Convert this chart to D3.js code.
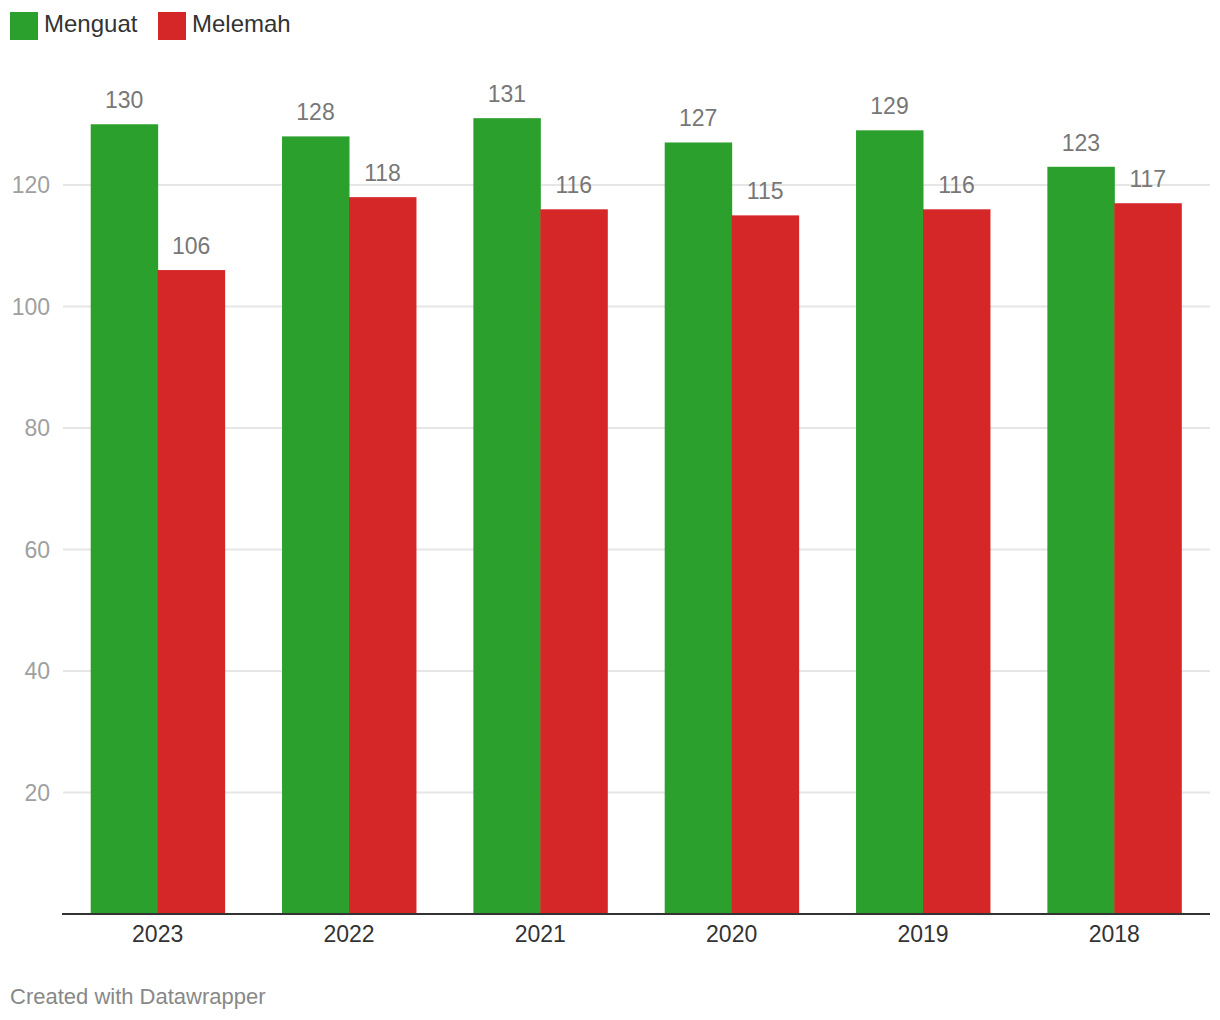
<!DOCTYPE html>
<html>
<head>
<meta charset="utf-8">
<script src="https://cdn.jsdelivr.net/npm/d3@7"></script>
<style>
  body { margin: 0; background: #fff; }
  text { font-family: "Liberation Sans", Arial, Helvetica, sans-serif; }
</style>
</head>
<body>
<div id="chart"></div>
<script>
const width = 1220;
const height = 1020;

// data
const years = ["2023", "2022", "2021", "2020", "2019", "2018"];
const seriesNames = ["Menguat", "Melemah"];
const menguat = [130, 128, 131, 127, 129, 123];
const melemah = [106, 118, 116, 115, 116, 117];
const yTicks = [20, 40, 60, 80, 100, 120];
const colors = ["#2ca02c", "#d62728"];

const svg = d3.select("#chart").append("svg")
    .attr("width", width)
    .attr("height", height);

const x = d3.scaleBand()
    .domain(years)
    .range([62, 1210])
    .paddingInner(0.3)
    .paddingOuter(0.15);

const xSub = d3.scaleBand()
    .domain(seriesNames)
    .range([0, x.bandwidth()]);

const y = d3.scaleLinear()
    .domain([0, 120])
    .range([914, 185]);

// gridlines
svg.append("g")
    .selectAll("line")
    .data(yTicks)
    .enter()
    .append("line")
    .attr("x1", 63)
    .attr("x2", 1210)
    .attr("y1", d => y(d))
    .attr("y2", d => y(d))
    .attr("stroke", "#e6e6e6")
    .attr("stroke-width", 2);

// y tick labels
svg.append("g")
    .selectAll("text")
    .data(yTicks)
    .enter()
    .append("text")
    .attr("x", 50)
    .attr("y", d => y(d) + 8)
    .attr("text-anchor", "end")
    .attr("font-size", 23)
    .attr("fill", "#a0a0a0")
    .text(d => d);

// bars
const rows = years.map((yr, i) => ({ year: yr, values: [menguat[i], melemah[i]] }));

const groups = svg.append("g")
    .selectAll("g")
    .data(rows)
    .enter()
    .append("g")
    .attr("transform", d => `translate(${x(d.year)},0)`);

groups.selectAll("rect")
    .data(d => d.values.map((v, j) => ({ name: seriesNames[j], value: v, color: colors[j] })))
    .enter()
    .append("rect")
    .attr("x", d => xSub(d.name))
    .attr("y", d => y(d.value))
    .attr("width", xSub.bandwidth() + 0.5)
    .attr("height", d => y(0) - y(d.value))
    .attr("fill", d => d.color);

groups.selectAll("text")
    .data(d => d.values.map((v, j) => ({ name: seriesNames[j], value: v })))
    .enter()
    .append("text")
    .attr("x", d => xSub(d.name) + xSub.bandwidth() / 2)
    .attr("y", d => y(d.value) - 16)
    .attr("text-anchor", "middle")
    .attr("font-size", 23)
    .attr("fill", "#777")
    .text(d => d.value);

// baseline
svg.append("line")
    .attr("x1", 62)
    .attr("x2", 1210)
    .attr("y1", y(0))
    .attr("y2", y(0))
    .attr("stroke", "#333")
    .attr("stroke-width", 2);

// x labels
svg.append("g")
    .selectAll("text")
    .data(years)
    .enter()
    .append("text")
    .attr("x", d => x(d) + x.bandwidth() / 2)
    .attr("y", 942)
    .attr("text-anchor", "middle")
    .attr("font-size", 23)
    .attr("fill", "#333")
    .text(d => d);

// legend
const legend = svg.append("g")
    .selectAll("g")
    .data(seriesNames)
    .enter()
    .append("g")
    .attr("transform", (d, i) => `translate(${10 + i * 148},12)`);

legend.append("rect")
    .attr("width", 28)
    .attr("height", 28)
    .attr("fill", (d, i) => colors[i]);

legend.append("text")
    .attr("x", 34)
    .attr("y", 20)
    .attr("font-size", 24)
    .attr("fill", "#333")
    .text(d => d);

// footer
svg.append("text")
    .attr("x", 10)
    .attr("y", 1004)
    .attr("font-size", 22)
    .attr("fill", "#888")
    .text("Created with Datawrapper");
</script>
</body>
</html>
